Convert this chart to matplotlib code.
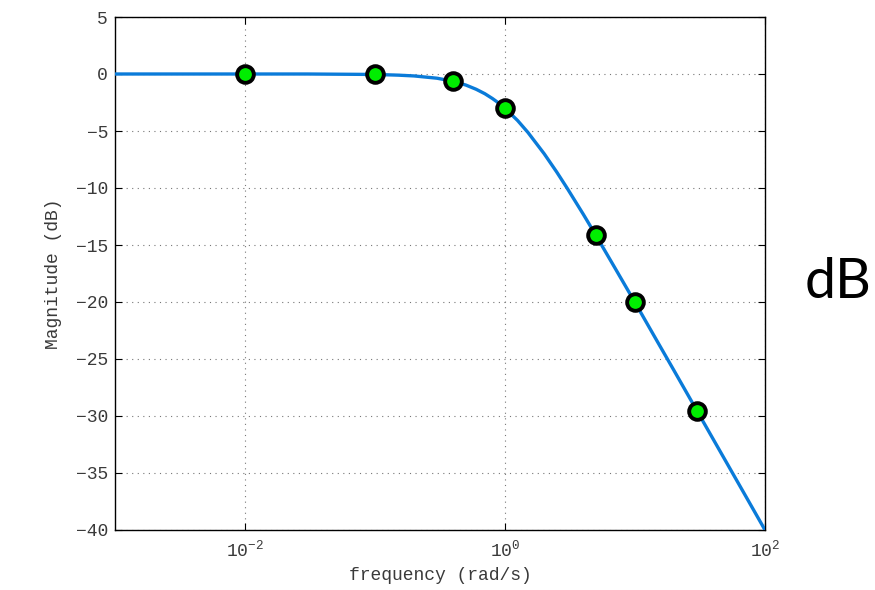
import matplotlib.pyplot as plt
from matplotlib.ticker import FixedLocator, NullLocator

# values (magnitude in dB)
freq = [0.001, 0.003, 0.01, 0.03, 0.1, 0.15, 0.2, 0.3, 0.4, 0.5, 0.6, 0.7, 0.8,
        0.9, 1.0, 1.25, 1.5, 2.0, 2.5, 3.0, 4.0, 5.0, 7.0, 10.0, 15.0, 20.0,
        30.0, 50.0, 70.0, 100.0]
mag_db = [0.0, 0.0, 0.0, 0.0, -0.04, -0.1, -0.17, -0.37, -0.64, -0.97, -1.34,
          -1.73, -2.15, -2.57, -3.01, -4.08, -5.12, -6.99, -8.6, -10.0, -12.3,
          -14.15, -17.0, -20.04, -23.55, -26.03, -29.55, -33.98, -36.9, -40.0]

# highlighted samples
pt_freq = [0.01, 0.1, 0.4, 1.0, 5.0, 10.0, 30.0]
pt_db = [0.0, -0.04, -0.64, -3.01, -14.15, -20.04, -29.55]

TEXT = "#3a3a3a"
MONO = ["Liberation Mono", "DejaVu Sans Mono"]
plt.rcParams["font.family"] = MONO
plt.rcParams["mathtext.fontset"] = "custom"
plt.rcParams["mathtext.rm"] = "Liberation Mono"

fig = plt.figure(figsize=(8.75, 5.9), dpi=100)
ax = fig.add_axes([115 / 875, 60 / 590, 650 / 875, 513 / 590])

ax.semilogx(freq, mag_db, color="#0a7bd9", lw=2.4, zorder=3)
ax.plot(pt_freq, pt_db, "o", ms=12, mfc="#00ee00", mec="black", mew=2.8,
        zorder=4, clip_on=False)

ax.set_xlim(1e-3, 1e2)
ax.set_ylim(-40, 5)
ax.xaxis.set_major_locator(FixedLocator([1e-2, 1e0, 1e2]))
ax.xaxis.set_minor_locator(NullLocator())
ax.set_xticklabels(["$\\mathregular{10^{-2}}$", "$\\mathregular{10^{0}}$",
                    "$\\mathregular{10^{2}}$"])
ax.set_yticks(range(-40, 6, 5))
ax.set_yticklabels([str(v).replace("-", "\u2212") for v in range(-40, 6, 5)])

ax.grid(True, which="major", ls=(0, (1, 4)), color="#777777", lw=0.8)
ax.tick_params(direction="in", length=5, width=0.8, colors="black",
               labelcolor=TEXT, labelsize=13, pad=5, top=True, right=True)
ax.tick_params(axis="x", pad=7)
for sp in ax.spines.values():
    sp.set_linewidth(1.0)

ax.set_xlabel("frequency (rad/s)", fontsize=13, color=TEXT, labelpad=5)
ax.set_ylabel("Magnitude (dB)", fontsize=13, color=TEXT, labelpad=10)

fig.text(838 / 875, 1 - 283 / 590, "dB", family=["Lato", "DejaVu Sans"],
         fontsize=40, ha="center", va="center", color="black")

fig.savefig("out.png", dpi=100)
